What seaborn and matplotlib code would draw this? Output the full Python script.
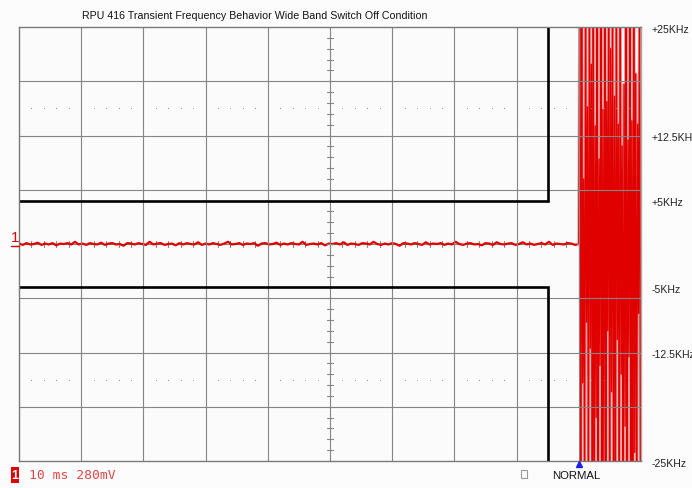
import numpy as np
import pandas as pd
import matplotlib.pyplot as plt
import seaborn as sns
from matplotlib.patches import Rectangle
from matplotlib.transforms import blended_transform_factory

# scope setup: 10 ms/div over 10 divisions, +-25 kHz over 8 divisions
time_span_ms = [0, 100]
freq_span_khz = [-25, 25]
trigger_ms = 90.0
flat_step_ms = 0.6
burst_step_ms = 0.155

# steady trace before switch off (kHz), runs up to the trigger point
flat_khz = [
    0.05, -0.1, 0.1, -0.05, 0.0, 0.15, -0.1, 0.05, -0.05, 0.1, -0.15, 0.05, 0.0, 0.1, -0.05,
    0.25, -0.05, 0.05, -0.1, 0.1, 0.0, -0.05, 0.15, -0.1, 0.05, 0.1, -0.05, 0.0, -0.2, 0.1,
    0.05, -0.05, 0.1, 0.0, -0.1, 0.25, -0.05, 0.05, 0.1, -0.1, 0.0, 0.05, -0.15, 0.1, -0.05,
    0.1, 0.0, -0.05, 0.2, -0.1, 0.05, -0.05, 0.1, 0.0, -0.1, 0.05, 0.25, -0.05, 0.0, 0.1,
    -0.1, 0.05, 0.0, 0.1, -0.2, 0.05, 0.1, -0.05, 0.0, 0.15, -0.1, 0.05, -0.05, 0.1, 0.0,
    -0.05, 0.25, -0.1, 0.0, 0.05, -0.05, 0.1, -0.15, 0.05, 0.0, 0.1, -0.05, 0.2, -0.1, 0.05,
    0.0, -0.1, 0.1, 0.05, -0.05, 0.25, 0.0, -0.1, 0.05, -0.05, 0.1, 0.0, -0.2, 0.1, 0.05,
    -0.05, 0.1, 0.0, -0.1, 0.2, -0.05, 0.05, 0.0, 0.1, -0.1, 0.05, -0.05, 0.25, 0.0, -0.1,
    0.05, 0.1, -0.05, 0.0, -0.15, 0.1, 0.05, -0.1, 0.2, 0.0, -0.05, 0.05, 0.1, -0.1, 0.0,
    0.2, -0.05, 0.05, -0.1, 0.0, 0.1, -0.05, 0.25, -0.1, 0.05, 0.0, -0.05, 0.1, 0.05, -0.1,
    0.0,
]

# burst after switch off, alternating peaks (kHz, clipped by the screen)
burst_up_khz = [30, 30, 7.5, 30, 15.8, 30, 20.7, 30, 13.6, 30, 9.8, 30, 15.5, 30, 16.4, 30,
                22.5, 30, 17, 30, 13.8, 30, 11.3, 18.4, 30, 12, 30, 14.2, 30, 19.6, 13.8, 30]
burst_dn_khz = [-30, -16, -30, -9, -30, -12, -30, -30, -20, -30, -14, -30, -25, -30, -10, -30,
                -17, -30, -30, -11, -30, -15, -30, -21, -30, -13, -30, -30, -24, -30, -8, -30]

# limit mask
mask_edge_ms = 85
mask_limit_khz = 5

label_values = [25, 12.5, 5, -5, -12.5, -25]
label_texts = ["+25KHz", "+12.5KHz", "+5KHz", "-5KHz", "-12.5KHz", "-25KHz"]

title = "RPU 416 Transient Frequency Behavior Wide Band Switch Off Condition"

sns.set_style("white")
plt.rcParams["font.family"] = ["Liberation Sans", "DejaVu Sans"]

W, H = 692, 489
fig = plt.figure(figsize=(W / 100, H / 100), dpi=100, facecolor="#fcfcfc")
ax = fig.add_axes([19 / W, 1 - 462 / H, 622 / W, 434 / H])
ax.set_facecolor("#fbfbfb")

burst_vals = [v for pair in zip(burst_up_khz, burst_dn_khz) for v in pair]
t_flat = np.arange(len(flat_khz)) * flat_step_ms
t_burst = trigger_ms + np.arange(1, len(burst_vals) + 1) * burst_step_ms
flat = pd.DataFrame({"t": t_flat, "f": flat_khz})
burst = pd.DataFrame({
    "t": np.concatenate([[t_flat[-1]], t_burst]),
    "f": np.concatenate([[flat_khz[-1]], burst_vals]),
})

grid_c = "#858585"
# center axis and its ticks sit under the trace
ax.axhline(0, color=grid_c, lw=0.8, zorder=1)
for xv in np.arange(0, 100.01, 2):
    ax.plot([xv, xv], [-0.35, 0.35], color=grid_c, lw=0.8, zorder=1)

sns.lineplot(data=flat, x="t", y="f", estimator=None, sort=False,
             color="#e00000", lw=1.6, ax=ax, zorder=2)
# pale halo of the fast burst, then the trace itself
sns.lineplot(data=burst, x="t", y="f", estimator=None, sort=False,
             color="#f29a9a", lw=2.2, ax=ax, zorder=2)
sns.lineplot(data=burst, x="t", y="f", estimator=None, sort=False,
             color="#e00000", lw=0.95, ax=ax, zorder=2)

# grid on top of the trace
for xv in np.arange(10, 100, 10):
    ax.axvline(xv, color=grid_c, lw=0.8, zorder=3)
for yv in np.arange(-18.75, 25, 6.25):
    if yv != 0:
        ax.axhline(yv, color=grid_c, lw=0.8, zorder=3)

# vertical center tick marks
for yv in np.arange(-25, 25.01, 1.25):
    ax.plot([49.5, 50.5], [yv, yv], color=grid_c, lw=0.8, zorder=3)

# dotted rows
dot_x = [x for x in np.arange(2, 100, 2) if x % 10 != 0]
for yv in [15.625, -15.625]:
    ax.plot(dot_x, [yv] * len(dot_x), ls="none", marker="s", ms=0.6,
            mew=0, color="#8c8c8c", zorder=3)

# limit mask
ax.plot([0, mask_edge_ms, mask_edge_ms], [mask_limit_khz, mask_limit_khz, 30],
        color="black", lw=1.9, zorder=4, solid_joinstyle="miter")
ax.plot([0, mask_edge_ms, mask_edge_ms], [-mask_limit_khz, -mask_limit_khz, -30],
        color="black", lw=1.9, zorder=4, solid_joinstyle="miter")

ax.set_xlim(time_span_ms)
ax.set_ylim(freq_span_khz)
ax.set_xticks([])
ax.set_yticks([])
ax.set_xlabel("")
ax.set_ylabel("")
for s in ax.spines.values():
    s.set_visible(True)
    s.set_color("#7a7a7a")
    s.set_linewidth(1.0)
    s.set_zorder(5)
ax.spines["right"].set_color("#a8a8a8")

# trigger marker
ax.plot([trigger_ms], [-25.4], marker="^", ms=5, color="#1f1fe0",
        clip_on=False, zorder=6)

# frequency labels right of the screen
tr = blended_transform_factory(fig.transFigure, ax.transData)
for v, s in zip(label_values, label_texts):
    fig.text(652 / W, v - 0.2, s, transform=tr, ha="left", va="center",
             fontsize=7.6, color="#222222")

fig.text(82 / W, 1 - 16 / H, title, ha="left", va="center", fontsize=7.7,
         color="#111111")

# channel marker on the left
fig.text(15 / W, 1 - 238 / H, "1", ha="center", va="center", fontsize=11,
         color="#e00000")
fig.add_artist(plt.Line2D([11 / W, 19 / W], [1 - 247 / H, 1 - 247 / H],
                          color="#e00000", lw=1.0))

# status bar
fig.add_artist(Rectangle((11 / W, 1 - 484 / H), 8 / W, 16 / H,
                         facecolor="#e00000", edgecolor="none"))
fig.text(15 / W, 1 - 476 / H, "1", ha="center", va="center", fontsize=9,
         color="white", fontweight="bold")
fig.text(29 / W, 1 - 476 / H, "10 ms 280mV", ha="left", va="center",
         fontsize=9.4, family="DejaVu Sans Mono", color="#e04848")
fig.add_artist(Rectangle((521 / W, 1 - 479 / H), 6 / W, 8 / H,
                         facecolor="none", edgecolor="#9a9a9a", lw=0.8))
fig.text(552 / W, 1 - 476 / H, "NORMAL", ha="left", va="center",
         fontsize=8.2, color="#111111")

fig.savefig("out.png", dpi=100, facecolor=fig.get_facecolor())
